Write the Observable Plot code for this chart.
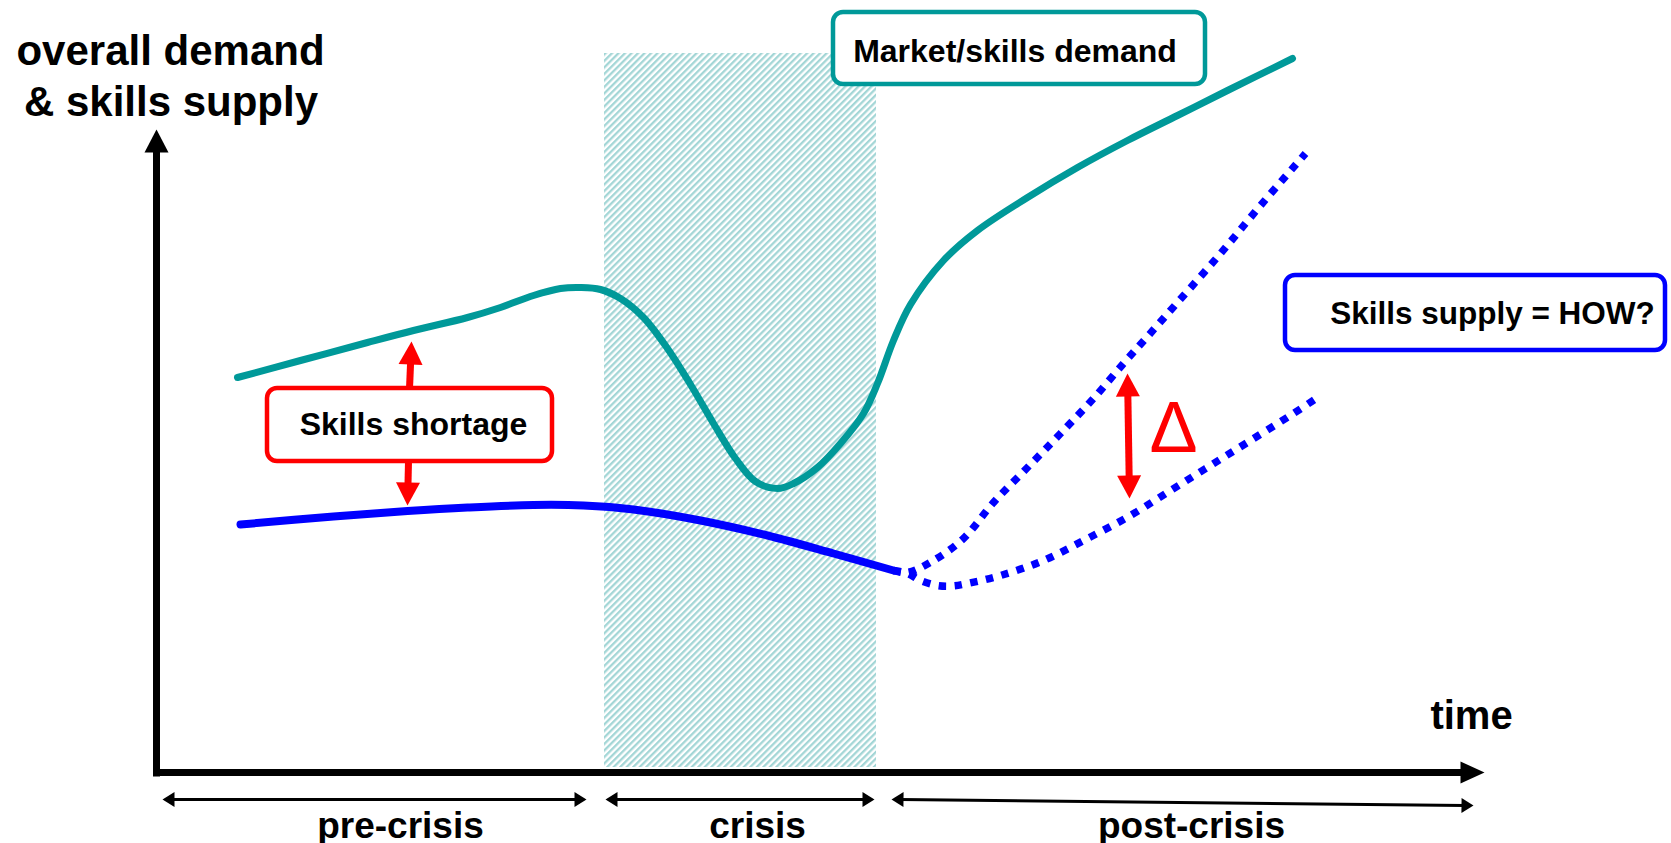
<!DOCTYPE html>
<html>
<head>
<meta charset="utf-8">
<script src="https://cdn.jsdelivr.net/npm/d3@7"></script>
<script src="https://cdn.jsdelivr.net/npm/@observablehq/plot@0.6"></script>
<style>
  html, body { margin: 0; padding: 0; background: #fff; }
  #chart svg { display: block; }
</style>
</head>
<body>
<div id="chart"></div>
<script>
// ---------- data (time units, level units) ----------
const demandT = [8.0, 14.3, 21.0, 25.6, 31.0, 34.3, 37.6, 40.3, 42.3, 44.3, 46.3, 48.6, 51.0, 53.3, 55.6, 57.8, 59.8, 62.0, 63.6, 66.0, 68.3, 70.6, 72.0, 73.6, 75.3, 78.6, 82.0, 87.0, 92.0, 97.0, 102.0, 107.0, 113.5];
const demandV = [39.5, 41.2, 43.0, 44.2, 45.5, 46.5, 47.7, 48.4, 48.5, 48.3, 47.4, 45.5, 42.4, 38.8, 34.9, 31.4, 29.1, 28.4, 28.9, 30.5, 32.9, 35.9, 38.9, 43.2, 46.8, 51.2, 54.2, 57.5, 60.5, 63.2, 65.7, 68.2, 71.4];

const supplyT = [8.3, 17.6, 25.0, 31.0, 37.6, 42.6, 47.6, 54.3, 61.0, 67.6, 73.6];
const supplyV = [24.8, 25.6, 26.15, 26.5, 26.75, 26.7, 26.3, 25.2, 23.7, 21.9, 20.2];

const highT = [73.6, 75.0, 77.6, 80.6, 83.6, 87.0, 90.3, 93.6, 96.6, 99.0, 102.0, 106.3, 110.3, 114.8];
const highV = [20.2, 20.0, 21.2, 23.4, 27.0, 30.5, 33.9, 37.4, 40.9, 43.6, 47.0, 51.9, 56.7, 61.9];

const lowT = [73.6, 75.0, 76.3, 78.0, 79.5, 81.0, 84.3, 88.6, 93.0, 97.3, 101.3, 105.3, 109.3, 113.6, 116.3];
const lowV = [20.2, 19.9, 19.2, 18.7, 18.65, 18.9, 19.7, 21.2, 23.4, 25.7, 28.2, 30.7, 33.2, 35.9, 37.7];

// crisis period band
const crisisT = [44.7, 71.9];
const crisisV = [0.5, 71.9];

// axes
const axisTitleY = ["overall demand", "& skills supply"];
const axisTitleYT = [1.3, 1.35];
const axisTitleYV = [70.8, 65.7];
const axisTitleX = "time";
const axisTitleXT = 131.4;
const axisTitleXV = 4.4;
const yAxisT = -0.1, yAxisV = [-0.4, 64.3];
const xAxisV = 0, xAxisT = [-0.4, 132.7];

// periods
const periodLabels = ["pre-crisis", "crisis", "post-crisis"];
const periodStartT = [0.5, 44.8, 73.4];
const periodEndT = [42.9, 71.7, 131.6];
const periodStartV = [-2.7, -2.7, -2.7];
const periodEndV = [-2.7, -2.7, -3.3];
const periodLabelT = [24.3, 60.0, 103.4];
const periodLabelV = [-6.5, -6.5, -6.5];

// annotation boxes
const boxLabels = ["Market/skills demand", "Skills shortage", "Skills supply = HOW?"];
const boxT1 = [67.6, 11.0, 112.8];
const boxT2 = [104.8, 39.5, 150.8];
const boxV1 = [68.8, 31.1, 42.2];
const boxV2 = [76.0, 38.4, 49.7];
const boxTextT = [85.75, 25.6, 133.5];
const boxTextV = [71.1, 33.8, 44.9];

// gap arrows (tail -> tip)
const gapTail = [[25.2, 38.4], [25.1, 31.1]];
const gapTip = [[25.4, 43.1], [25.0, 26.7]];
const deltaEnds = [[97.0, 39.9], [97.2, 27.4]];
const deltaLabel = "Δ";
const deltaLabelT = 101.6, deltaLabelV = 32.1;

// ---------- styles ----------
const TEAL = "#009999", BLUE = "#0000ff", RED = "#ff0000";
const boxColors = [TEAL, RED, BLUE];
const FONT = "Liberation Sans, Arial, Helvetica, sans-serif";

const W = 1671, H = 843, ML = 157, MB = 71;
const xDomain = [0, 151.4], yDomain = [0, 77.2];
const sx = d3.scaleLinear(xDomain, [ML, W]);
const sy = d3.scaleLinear(yDomain, [H - MB, 0]);

const zip = (T, V) => T.map((t, i) => ({t, v: V[i]}));

// filled arrow head symbol, tip at anchor, pointing along screen angle
function headSymbol(from, to, len, half) {
  const dx = sx(to[0]) - sx(from[0]), dy = sy(to[1]) - sy(from[1]);
  const a = Math.atan2(dy, dx), c = Math.cos(a), s = Math.sin(a);
  const bx = -len * c, by = -len * s;
  return {
    draw(ctx) {
      ctx.moveTo(0, 0);
      ctx.lineTo(bx - half * s, by + half * c);
      ctx.lineTo(bx + half * s, by - half * c);
      ctx.closePath();
    }
  };
}
function head(from, to, len, half, color) {
  return Plot.dot([{t: to[0], v: to[1]}], {
    x: "t", y: "v", r: 5, symbol: headSymbol(from, to, len, half), fill: color, stroke: "none"
  });
}
function shaft(a, b, width, color, insetStart, insetEnd) {
  return Plot.arrow([{x1: a[0], y1: a[1], x2: b[0], y2: b[1]}], {
    x1: "x1", y1: "y1", x2: "x2", y2: "y2", headLength: 0, bend: 0,
    stroke: color, strokeWidth: width, strokeLinecap: "butt", insetStart, insetEnd
  });
}

const marks = [];

// crisis band (hatched)
marks.push(Plot.rect([{}], {
  x1: () => crisisT[0], x2: () => crisisT[1], y1: () => crisisV[0], y2: () => crisisV[1],
  fill: "url(#hatch)", stroke: "none"
}));

// curves
marks.push(Plot.line(zip(demandT, demandV), {x: "t", y: "v", stroke: TEAL, strokeWidth: 7, curve: "catmull-rom"}));
marks.push(Plot.line(zip(supplyT, supplyV), {x: "t", y: "v", stroke: BLUE, strokeWidth: 8, curve: "catmull-rom"}));
marks.push(Plot.line(zip(highT, highV), {x: "t", y: "v", stroke: BLUE, strokeWidth: 7.5, curve: "catmull-rom", strokeDasharray: "7.5,8", strokeLinecap: "butt"}));
marks.push(Plot.line(zip(lowT, lowV), {x: "t", y: "v", stroke: BLUE, strokeWidth: 7.5, curve: "catmull-rom", strokeDasharray: "7.5,8.5", strokeLinecap: "butt"}));

// axes arrows
const yA0 = [yAxisT, yAxisV[0]], yA1 = [yAxisT, yAxisV[1]];
const xA0 = [xAxisT[0], xAxisV], xA1 = [xAxisT[1], xAxisV];
marks.push(shaft(yA0, yA1, 7, "black", 0, 20));
marks.push(head(yA0, yA1, 23, 12, "black"));
marks.push(shaft(xA0, xA1, 7, "black", 0, 20));
marks.push(head(xA0, xA1, 24, 11, "black"));

// period double arrows and labels
periodLabels.forEach((lab, i) => {
  const a = [periodStartT[i], periodStartV[i]], b = [periodEndT[i], periodEndV[i]];
  marks.push(shaft(a, b, 3, "black", 9, 9));
  marks.push(head(a, b, 12, 7.5, "black"));
  marks.push(head(b, a, 12, 7.5, "black"));
});
marks.push(Plot.text(periodLabels, {
  x: (d, i) => periodLabelT[i], y: (d, i) => periodLabelV[i], text: d => d,
  fontSize: 37, fontWeight: "bold", fontFamily: FONT, textAnchor: "middle", lineAnchor: "bottom", fill: "black"
}));

// axis titles
marks.push(Plot.text(axisTitleY, {
  x: (d, i) => axisTitleYT[i], y: (d, i) => axisTitleYV[i], text: d => d,
  fontSize: 42, fontWeight: "bold", fontFamily: FONT, textAnchor: "middle", lineAnchor: "bottom", fill: "black"
}));
marks.push(Plot.text([axisTitleX], {
  x: () => axisTitleXT, y: () => axisTitleXV, text: d => d,
  fontSize: 40, fontWeight: "bold", fontFamily: FONT, textAnchor: "middle", lineAnchor: "bottom", fill: "black"
}));

// gap arrows (skills shortage)
gapTail.forEach((tail, i) => {
  marks.push(shaft(tail, gapTip[i], 7, RED, 0, 18));
  marks.push(head(tail, gapTip[i], 23, 12, RED));
});
// delta arrow
marks.push(shaft(deltaEnds[0], deltaEnds[1], 7, RED, 18, 18));
marks.push(head(deltaEnds[1], deltaEnds[0], 23, 12, RED));
marks.push(head(deltaEnds[0], deltaEnds[1], 23, 12, RED));
marks.push(Plot.text([deltaLabel], {
  x: () => deltaLabelT, y: () => deltaLabelV, text: d => d,
  fontSize: 72, fontWeight: "normal", fontFamily: FONT, textAnchor: "middle", lineAnchor: "bottom", fill: RED
}));

// boxes
boxLabels.forEach((lab, i) => {
  marks.push(Plot.rect([lab], {
    x1: () => boxT1[i], x2: () => boxT2[i], y1: () => boxV1[i], y2: () => boxV2[i],
    fill: "white", stroke: boxColors[i], strokeWidth: 4.5, rx: 10
  }));
  marks.push(Plot.text([lab], {
    x: () => boxTextT[i], y: () => boxTextV[i], text: d => d,
    fontSize: i === 2 ? 31.5 : 32, fontWeight: "bold", fontFamily: FONT,
    textAnchor: "middle", lineAnchor: "bottom", fill: "black"
  }));
});

const svg = Plot.plot({
  width: W, height: H,
  marginLeft: ML, marginRight: 0, marginTop: 0, marginBottom: MB,
  x: {domain: xDomain, axis: null},
  y: {domain: yDomain, axis: null},
  style: {background: "white", fontFamily: FONT, overflow: "visible"},
  marks
});

// hatch pattern definition
const NS = "http://www.w3.org/2000/svg";
const defs = document.createElementNS(NS, "defs");
const pat = document.createElementNS(NS, "pattern");
pat.setAttribute("id", "hatch");
pat.setAttribute("width", "4.6");
pat.setAttribute("height", "10");
pat.setAttribute("patternUnits", "userSpaceOnUse");
pat.setAttribute("patternTransform", "rotate(45)");
const bg = document.createElementNS(NS, "rect");
bg.setAttribute("width", "4.6"); bg.setAttribute("height", "10"); bg.setAttribute("fill", "#ffffff");
const st = document.createElementNS(NS, "rect");
st.setAttribute("width", "2.3"); st.setAttribute("height", "10"); st.setAttribute("fill", "#a3d6d6");
pat.appendChild(bg); pat.appendChild(st); defs.appendChild(pat);
svg.insertBefore(defs, svg.firstChild);

document.getElementById("chart").appendChild(svg);
</script>
</body>
</html>
